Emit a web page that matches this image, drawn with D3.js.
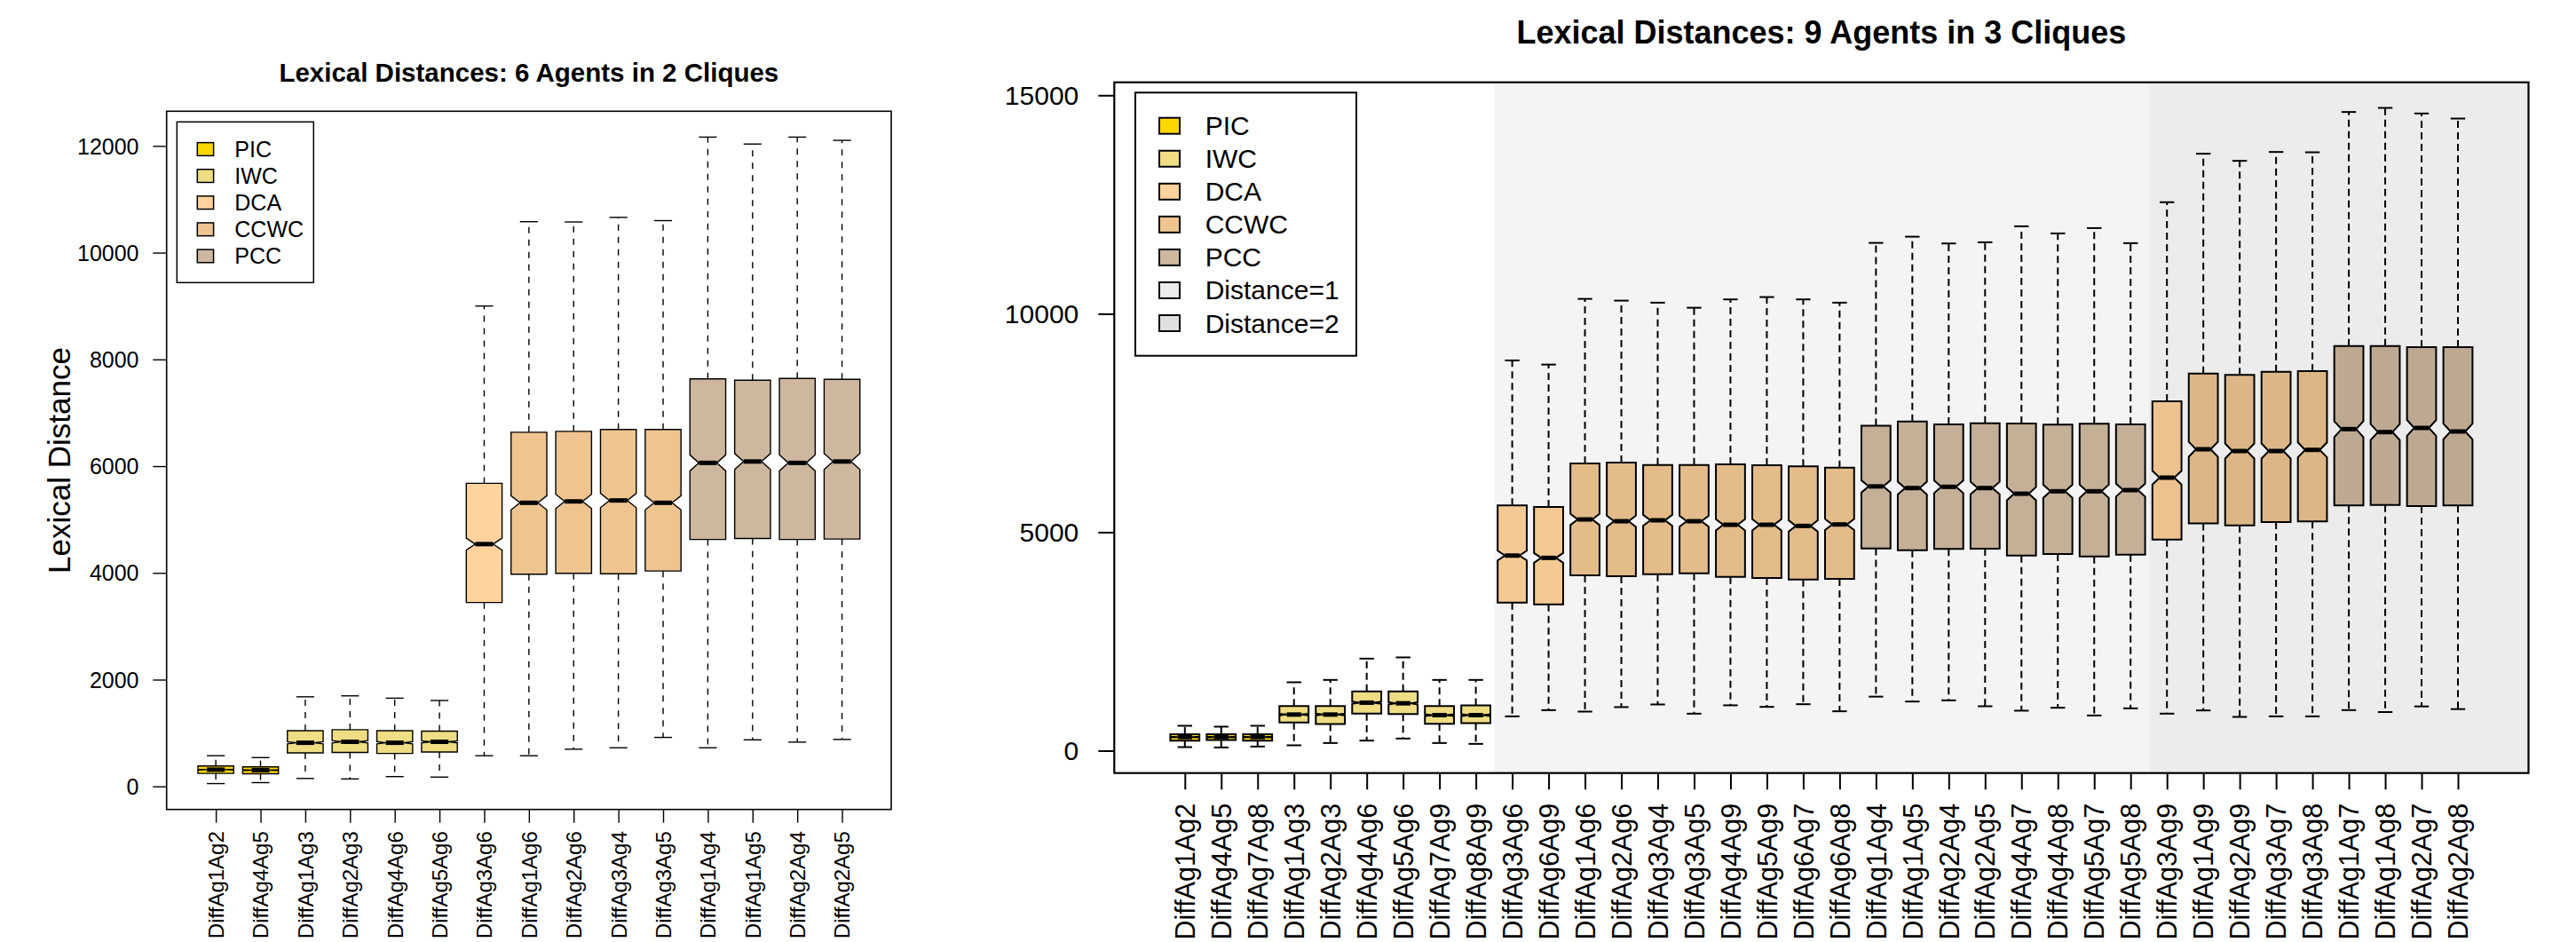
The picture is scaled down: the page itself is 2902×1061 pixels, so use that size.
<!DOCTYPE html>
<html>
<head>
<meta charset="utf-8">
<script src="https://cdn.jsdelivr.net/npm/d3@7"></script>
<style>
  html, body { margin: 0; padding: 0; background: #ffffff; }
  svg { display: block; }
  text { font-family: "Liberation Sans", Arial, Helvetica, sans-serif; fill: #000; }
</style>
</head>
<body>
<svg id="chart" width="2902" height="1061"></svg>
<script>
// ---------------- DATA ----------------
const categories = ["PIC", "IWC", "DCA", "CCWC", "PCC"];
const categoryColors = ["#FFD700", "#EEDD82", "#FFD39B", "#EEC591", "#CDB79E"];
const distanceLabels = ["Distance=1", "Distance=2"];
const sampleSize = 1000; // observations per box (used for notch, as R does)

// Left panel: 6 agents in 2 cliques
const leftTitle = "Lexical Distances: 6 Agents in 2 Cliques";
const leftLabels = ["DiffAg1Ag2","DiffAg4Ag5","DiffAg1Ag3","DiffAg2Ag3","DiffAg4Ag6","DiffAg5Ag6",
  "DiffAg3Ag6","DiffAg1Ag6","DiffAg2Ag6","DiffAg3Ag4","DiffAg3Ag5","DiffAg1Ag4","DiffAg1Ag5","DiffAg2Ag4","DiffAg2Ag5"];
const leftGroups = ["PIC","PIC","IWC","IWC","IWC","IWC","DCA","CCWC","CCWC","CCWC","CCWC","PCC","PCC","PCC","PCC"];
const leftLo  = [52, 70, 148, 139, 183, 174, 574, 574, 696, 723, 917, 723, 872, 829, 879];
const leftQ1  = [243, 235, 626, 635, 617, 643, 3444, 3974, 3991, 3983, 4035, 4626, 4644, 4626, 4635];
const leftMed = [313, 304, 817, 835, 817, 835, 4539, 5313, 5339, 5357, 5313, 6061, 6087, 6061, 6087];
const leftQ3  = [383, 365, 1043, 1061, 1043, 1035, 5678, 6635, 6652, 6687, 6687, 7635, 7609, 7644, 7626];
const leftHi  = [574, 539, 1678, 1696, 1652, 1609, 9000, 10580, 10575, 10661, 10600, 12165, 12035, 12165, 12104];
const leftYTicks = [0, 2000, 4000, 6000, 8000, 10000, 12000];
const leftYTitle = "Lexical Distance";

// Right panel: 9 agents in 3 cliques
const rightTitle = "Lexical Distances: 9 Agents in 3 Cliques";
const rightLabels = ["DiffAg1Ag2","DiffAg4Ag5","DiffAg7Ag8","DiffAg1Ag3","DiffAg2Ag3","DiffAg4Ag6","DiffAg5Ag6",
  "DiffAg7Ag9","DiffAg8Ag9","DiffAg3Ag6","DiffAg6Ag9","DiffAg1Ag6","DiffAg2Ag6","DiffAg3Ag4","DiffAg3Ag5",
  "DiffAg4Ag9","DiffAg5Ag9","DiffAg6Ag7","DiffAg6Ag8","DiffAg1Ag4","DiffAg1Ag5","DiffAg2Ag4","DiffAg2Ag5",
  "DiffAg4Ag7","DiffAg4Ag8","DiffAg5Ag7","DiffAg5Ag8","DiffAg3Ag9","DiffAg1Ag9","DiffAg2Ag9","DiffAg3Ag7",
  "DiffAg3Ag8","DiffAg1Ag7","DiffAg1Ag8","DiffAg2Ag7","DiffAg2Ag8"];
const rightGroups = ["PIC","PIC","PIC","IWC","IWC","IWC","IWC","IWC","IWC",
  "DCA","DCA","CCWC","CCWC","CCWC","CCWC","CCWC","CCWC","CCWC","CCWC",
  "PCC","PCC","PCC","PCC","PCC","PCC","PCC","PCC",
  "DCA","CCWC","CCWC","CCWC","CCWC","PCC","PCC","PCC","PCC"];
const rightDistance = [0,0,0,0,0,0,0,0,0, 1,1,1,1,1,1,1,1,1,1,1,1,1,1,1,1,1,1, 2,2,2,2,2,2,2,2,2];
const rightLo  = [81, 73, 94, 122, 175, 230, 277, 175, 155, 785, 927, 894, 996, 1057, 846, 1037, 1002, 1063, 901,
  1236, 1124, 1151, 1016, 915, 982, 805, 968, 847, 921, 772, 785, 785, 928, 883, 1012, 951];
const rightQ1  = [230, 244, 230, 643, 610, 846, 839, 616, 630, 3387, 3346, 4011, 3991, 4038, 4058, 3977, 3950, 3916, 3930,
  4630, 4587, 4615, 4621, 4465, 4499, 4444, 4485, 4831, 5204, 5156, 5231, 5245, 5611, 5624, 5597, 5611];
const rightMed = [311, 311, 311, 826, 826, 1098, 1084, 813, 813, 4465, 4412, 5292, 5251, 5272, 5251, 5170, 5170, 5143, 5177,
  6048, 6010, 6038, 6010, 5881, 5936, 5936, 5963, 6248, 6898, 6857, 6857, 6884, 7359, 7291, 7386, 7305];
const rightQ3  = [378, 378, 378, 1023, 1023, 1354, 1354, 1023, 1037, 5611, 5577, 6573, 6593, 6539, 6539, 6552, 6532, 6505, 6478,
  7437, 7535, 7467, 7494, 7488, 7461, 7481, 7467, 7996, 8632, 8600, 8673, 8687, 9262, 9262, 9236, 9236];
const rightHi  = [569, 549, 569, 1565, 1619, 2106, 2134, 1619, 1619, 8931, 8836, 10340, 10300, 10253, 10137, 10328, 10381, 10328, 10253,
  11621, 11763, 11608, 11635, 12001, 11838, 11960, 11615, 12552, 13662, 13499, 13702, 13695, 14617, 14711, 14583, 14467];
const rightYTicks = [0, 5000, 10000, 15000];

// ---------------- DRAWING ----------------
const svg = d3.select("#chart");
svg.append("rect").attr("width", 2902).attr("height", 1061).attr("fill", "#fff");
const colorOf = d3.scaleOrdinal().domain(categories).range(categoryColors);

function panel(o) {
  const n = o.labels.length;
  const x = d3.scaleLinear().domain([0.5 - 0.04 * n, n + 0.5 + 0.04 * n]).range([o.left, o.right]);
  const yMin = d3.min(o.lo), yMax = d3.max(o.hi), r = yMax - yMin;
  const y = d3.scaleLinear().domain([yMin - 0.04 * r, yMax + 0.04 * r]).range([o.bottom, o.top]);
  const g = svg.append("g");

  const boxes = d3.range(n).map(i => ({
    pos: i + 1, lo: o.lo[i], q1: o.q1[i], med: o.med[i], q3: o.q3[i], hi: o.hi[i],
    group: o.groups[i],
    notch: 1.58 * (o.q3[i] - o.q1[i]) / Math.sqrt(sampleSize)
  }));
  const wid = 0.4, nf = 0.5, staple = 0.2;

  const bg = g.append("g");
  boxes.forEach(b => {
    const cx = x(b.pos);
    // whiskers
    bg.append("line").attr("x1", cx).attr("x2", cx).attr("y1", y(b.q3)).attr("y2", y(b.hi))
      .attr("stroke", "#000").attr("stroke-width", o.lw).attr("stroke-dasharray", o.dash);
    bg.append("line").attr("x1", cx).attr("x2", cx).attr("y1", y(b.q1)).attr("y2", y(b.lo))
      .attr("stroke", "#000").attr("stroke-width", o.lw).attr("stroke-dasharray", o.dash);
    // staples
    [b.hi, b.lo].forEach(v => {
      bg.append("line").attr("x1", x(b.pos - staple)).attr("x2", x(b.pos + staple))
        .attr("y1", y(v)).attr("y2", y(v)).attr("stroke", "#000").attr("stroke-width", o.lw);
    });
    // notched box
    const pts = [
      [b.pos - wid, b.q1], [b.pos - wid, b.med - b.notch], [b.pos - wid * nf, b.med],
      [b.pos - wid, b.med + b.notch], [b.pos - wid, b.q3], [b.pos + wid, b.q3],
      [b.pos + wid, b.med + b.notch], [b.pos + wid * nf, b.med], [b.pos + wid, b.med - b.notch],
      [b.pos + wid, b.q1]
    ];
    bg.append("path").attr("d", d3.line().x(p => x(p[0])).y(p => y(p[1]))(pts) + "Z")
      .attr("fill", colorOf(b.group)).attr("stroke", "#000").attr("stroke-width", o.lw)
      .attr("stroke-linejoin", "miter");
    // median
    bg.append("line").attr("x1", x(b.pos - wid * nf)).attr("x2", x(b.pos + wid * nf))
      .attr("y1", y(b.med)).attr("y2", y(b.med)).attr("stroke", "#000").attr("stroke-width", o.medW);
  });

  // distance shading (semi-transparent, over the boxes)
  if (o.distance) {
    const levels = [1, 2];
    levels.forEach((lev, k) => {
      const idx = o.distance.map((d, i) => d === lev ? i + 1 : null).filter(v => v !== null);
      const x0 = x(d3.min(idx) - 0.5);
      const x1 = lev === 2 ? o.right : x(d3.max(idx) + 0.5);
      g.append("rect").attr("x", x0).attr("y", o.top).attr("width", x1 - x0).attr("height", o.bottom - o.top)
        .attr("fill", "#000").attr("fill-opacity", o.shadeAlpha[k]);
    });
  }

  // y axis
  const ya = g.append("g").attr("transform", `translate(${o.left},0)`)
    .call(d3.axisLeft(y).tickValues(o.yTicks).tickSize(o.yTickLen).tickPadding(o.yTickPad).tickFormat(d3.format("d")));
  ya.select(".domain").remove();
  ya.selectAll(".tick line").attr("stroke", "#000").attr("stroke-width", o.lw);
  ya.selectAll(".tick text").attr("font-size", o.tickFont).attr("dy", "0.35em")
    .attr("font-family", "Liberation Sans, Arial, sans-serif").style("fill", "#000");

  // x axis
  const xa = g.append("g").attr("transform", `translate(0,${o.bottom})`)
    .call(d3.axisBottom(x).tickValues(d3.range(1, n + 1)).tickSize(o.xTickLen).tickFormat(d => o.labels[d - 1]));
  xa.select(".domain").remove();
  xa.selectAll(".tick line").attr("stroke", "#000").attr("stroke-width", o.lw);
  xa.selectAll(".tick text").attr("x", 0).attr("y", 0).attr("dy", "0.35em")
    .attr("transform", `translate(0,${o.xLabelOffset}) rotate(-90)`)
    .attr("text-anchor", "end").attr("font-size", o.xLabelFont)
    .attr("font-family", "Liberation Sans, Arial, sans-serif").style("fill", "#000");

  // plot border
  g.append("rect").attr("x", o.left).attr("y", o.top).attr("width", o.right - o.left).attr("height", o.bottom - o.top)
    .attr("fill", "none").attr("stroke", "#000").attr("stroke-width", o.borderW);

  // title
  g.append("text").attr("x", (o.left + o.right) / 2).attr("y", o.titleY).attr("text-anchor", "middle")
    .attr("font-weight", "bold").attr("font-size", o.titleFont).text(o.title);

  // y title
  if (o.yTitle) {
    g.append("text").attr("transform", `translate(${o.yTitleX},${(o.top + o.bottom) / 2}) rotate(-90)`)
      .attr("text-anchor", "middle").attr("font-size", o.yTitleFont).text(o.yTitle);
  }

  // legend
  const L = o.legend;
  const lg = g.append("g");
  lg.append("rect").attr("x", L.x).attr("y", L.y).attr("width", L.w).attr("height", L.h)
    .attr("fill", "#fff").attr("stroke", "#000").attr("stroke-width", L.stroke);
  L.items.forEach((it, i) => {
    const cy = L.firstY + i * L.step;
    lg.append("rect").attr("x", L.swX).attr("y", cy - L.swH / 2).attr("width", L.swW).attr("height", L.swH)
      .attr("fill", it.color).attr("stroke", "#000").attr("stroke-width", L.stroke);
    lg.append("text").attr("x", L.textX).attr("y", cy).attr("dy", "0.35em").attr("font-size", L.font).text(it.label);
  });
}

const leftLegendItems = categories.map((c, i) => ({ label: c, color: categoryColors[i] }));
const rightLegendItems = leftLegendItems.concat([
  { label: distanceLabels[0], color: "#EBEBEB" },
  { label: distanceLabels[1], color: "#E0E0E0" }
]);

panel({
  left: 187.7, right: 1004, top: 125.3, bottom: 911.7,
  labels: leftLabels, groups: leftGroups, lo: leftLo, q1: leftQ1, med: leftMed, q3: leftQ3, hi: leftHi,
  yTicks: leftYTicks, yTickLen: 15.4, yTickPad: 15.8, tickFont: 25,
  xTickLen: 15, xLabelOffset: 24.5, xLabelFont: 24,
  lw: 1.4, medW: 5, dash: "7,7", borderW: 1.6,
  title: leftTitle, titleY: 91.7, titleFont: 29.5,
  yTitle: leftYTitle, yTitleX: 79, yTitleFont: 35,
  legend: { x: 199.3, y: 137.3, w: 154, h: 181, stroke: 1.5, swX: 222.3, swW: 18.3, swH: 14.7,
            firstY: 168, step: 30.1, textX: 264.3, font: 25, items: leftLegendItems }
});

panel({
  left: 1255.3, right: 2848.5, top: 92.7, bottom: 870.7,
  labels: rightLabels, groups: rightGroups, lo: rightLo, q1: rightQ1, med: rightMed, q3: rightQ3, hi: rightHi,
  distance: rightDistance, shadeAlpha: [0.043, 0.075],
  yTicks: rightYTicks, yTickLen: 18, yTickPad: 22, tickFont: 30,
  xTickLen: 18.6, xLabelOffset: 34, xLabelFont: 30.5,
  lw: 2, medW: 5, dash: "8,5", borderW: 2.2,
  title: rightTitle, titleY: 49.3, titleFont: 36,
  legend: { x: 1279, y: 104.3, w: 249, h: 296.4, stroke: 2, swX: 1306, swW: 23, swH: 18,
            firstY: 141.7, step: 37.05, textX: 1357.7, font: 30, items: rightLegendItems }
});
</script>
</body>
</html>
